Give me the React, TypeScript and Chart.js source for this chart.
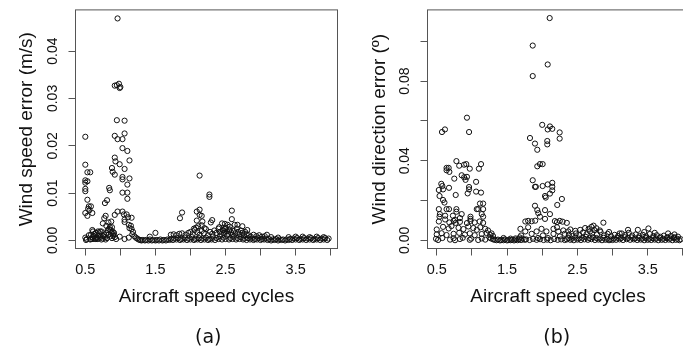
import { useEffect, useRef } from 'react';
import { Chart, registerables } from 'chart.js';

Chart.register(...registerables);

// ---------- tick values / labels ----------
const xTickValues = [0.5, 1, 1.5, 2, 2.5, 3, 3.5, 4];
const xTickLabels = ['0.5', '', '1.5', '', '2.5', '', '3.5', ''];
const speedTickValues = [0, 0.01, 0.02, 0.03, 0.04];
const speedTickLabels = ['0.00', '0.01', '0.02', '0.03', '0.04'];
const dirTickValues = [0, 0.02, 0.04, 0.06, 0.08, 0.1];
const dirTickLabels = ['0.00', '', '0.04', '', '0.08', ''];

// ---------- panel (a): wind speed error ----------
const speedPeak: number[][] = [
  [0.96, 0.0469],
  [0.92, 0.0327], [0.95, 0.0328], [0.98, 0.0331], [0.99, 0.0322], [1.0, 0.0324],
  [0.95, 0.0254], [1.06, 0.0253],
  [0.5, 0.0219],
  [0.92, 0.0221], [0.96, 0.0214], [1.03, 0.0214], [1.06, 0.0226],
  [1.03, 0.0195], [1.1, 0.0189],
  [0.92, 0.0175], [0.93, 0.0167], [0.99, 0.0161], [1.13, 0.0169], [1.06, 0.0151],
  [0.88, 0.0153], [0.89, 0.0145], [0.92, 0.0139], [1.03, 0.0134], [1.03, 0.0129], [1.13, 0.0131], [1.1, 0.0118],
  [1.03, 0.0101], [1.1, 0.0101], [1.1, 0.0088],
  [0.84, 0.0111], [0.85, 0.0106],
  [0.78, 0.0079], [0.81, 0.0085],
  [0.5, 0.016], [0.5, 0.0127], [0.5, 0.0122], [0.5, 0.0109], [0.5, 0.0104], [0.53, 0.0144], [0.57, 0.0144], [0.53, 0.0125],
  [0.53, 0.0086], [0.55, 0.0072], [0.54, 0.0067], [0.58, 0.0072], [0.56, 0.0064], [0.5, 0.0058], [0.53, 0.0052], [0.6, 0.0058],
  [0.96, 0.0061], [1.03, 0.0061], [0.92, 0.0054], [1.05, 0.0055], [1.09, 0.0055], [1.11, 0.0049], [1.16, 0.0048],
  [1.06, 0.0044], [1.06, 0.0039], [1.12, 0.0033], [1.15, 0.0031], [1.13, 0.0026], [1.16, 0.0024], [1.18, 0.0018], [1.17, 0.0013],
  [0.77, 0.0047], [0.79, 0.0052], [0.75, 0.0036], [0.83, 0.0038], [0.87, 0.004], [0.8, 0.0031], [0.85, 0.0028], [0.88, 0.0028],
  [0.82, 0.0022], [0.86, 0.0022], [0.89, 0.0019], [0.91, 0.0016], [0.9, 0.001],
  [0.99, 0.0008], [1.06, 0.0003], [1.12, 0.0006],
];
const speedLowCluster: number[][] = [
  [0.5, 0.0006], [0.51, 0.0001], [0.52, 0.0003], [0.55, 0.0011], [0.57, 0.0002], [0.58, 0.0012], [0.58, 0.0003],
  [0.6, 0.0022], [0.6, 0.0007], [0.61, 0.0019], [0.61, 0.0003], [0.62, 0.0009], [0.63, 0.0014], [0.64, 0.0004],
  [0.65, 0.0016], [0.65, 0.0003], [0.66, 0.0006], [0.67, 0.0003], [0.68, 0.001], [0.68, 0.0019], [0.69, 0.0004],
  [0.7, 0.0015], [0.71, 0.0019], [0.72, 0.0008], [0.73, 0.0019], [0.73, 0.0002], [0.75, 0.0004], [0.76, 0.0009],
  [0.77, 0.0012], [0.78, 0.0007], [0.79, 0.0002], [0.8, 0.0016], [0.81, 0.0005], [0.83, 0.0012], [0.84, 0.0024],
  [0.86, 0.0009], [0.87, 0.0016], [0.88, 0.0005], [0.9, 0.0013], [0.92, 0.0007], [0.94, 0.0003],
];
const speedBand: number[][] = [
  [1.2, 0.0009], [1.22, 0.0006], [1.24, 0.0004], [1.26, 0.0002], [1.28, 0.0001], [1.3, 0.0], [1.32, 0.0001],
  [1.35, 0.0], [1.37, 0.0001], [1.4, 0.0], [1.42, 0.0002], [1.45, 0.0], [1.47, 0.0001], [1.5, 0.0], [1.52, 0.0001],
  [1.55, 0.0], [1.57, 0.0002], [1.6, 0.0], [1.62, 0.0001], [1.65, 0.0], [1.67, 0.0002], [1.7, 0.0001], [1.72, 0.0003],
  [1.75, 0.0001], [1.77, 0.0004], [1.8, 0.0002], [1.82, 0.0005], [1.85, 0.0001], [1.87, 0.0003], [1.9, 0.0002],
  [1.92, 0.0006], [1.95, 0.0001], [1.97, 0.0004], [2.0, 0.0002], [2.02, 0.0007], [2.05, 0.0001], [2.07, 0.0003],
  [2.1, 0.0002], [2.12, 0.0005], [2.15, 0.0001], [2.17, 0.0004], [2.2, 0.0002], [2.22, 0.0006], [2.25, 0.0001],
  [2.27, 0.0003], [2.3, 0.0002], [2.32, 0.0008], [2.35, 0.0001], [2.37, 0.0005], [2.4, 0.0003], [2.42, 0.0009],
  [2.45, 0.0002], [2.47, 0.0006], [2.5, 0.0003], [2.52, 0.001], [2.55, 0.0002], [2.57, 0.0005], [2.6, 0.0003],
  [2.62, 0.0008], [2.65, 0.0002], [2.67, 0.0005], [2.7, 0.0003], [2.72, 0.0007], [2.75, 0.0002], [2.77, 0.0004],
  [2.8, 0.0001], [2.82, 0.0005], [2.85, 0.0002], [2.87, 0.0004], [2.9, 0.0001], [2.92, 0.0003], [2.95, 0.0002],
  [2.97, 0.0005], [3.0, 0.0001], [3.02, 0.0003], [3.05, 0.0002], [3.07, 0.0004], [3.1, 0.0001], [3.12, 0.0003],
  [3.15, 0.0], [3.17, 0.0002], [3.2, 0.0001], [3.22, 0.0003], [3.25, 0.0], [3.27, 0.0002], [3.3, 0.0001],
  [3.32, 0.0002], [3.35, 0.0], [3.37, 0.0002], [3.4, 0.0001], [3.42, 0.0003], [3.45, 0.0001], [3.47, 0.0004],
  [3.5, 0.0002], [3.52, 0.0005], [3.55, 0.0001], [3.57, 0.0003], [3.6, 0.0002], [3.62, 0.0005], [3.65, 0.0001],
  [3.67, 0.0004], [3.7, 0.0002], [3.72, 0.0005], [3.75, 0.0001], [3.77, 0.0003], [3.8, 0.0002], [3.82, 0.0005],
  [3.85, 0.0001], [3.87, 0.0004], [3.9, 0.0002], [3.92, 0.0005], [3.95, 0.0001], [3.97, 0.0004],
];
const speedBandUpper: number[][] = [
  [1.72, 0.0012], [1.76, 0.0013], [1.8, 0.0011], [1.84, 0.0014], [1.88, 0.0015], [1.93, 0.0012], [1.97, 0.0016],
  [2.0, 0.0018], [2.03, 0.0013], [2.06, 0.0022], [2.08, 0.0027], [2.1, 0.0017], [2.13, 0.0012], [2.16, 0.002],
  [2.19, 0.0015], [2.22, 0.0024], [2.25, 0.0011], [2.28, 0.0018], [2.31, 0.0014], [2.34, 0.0021], [2.37, 0.0016],
  [2.4, 0.0025], [2.42, 0.0018], [2.44, 0.0013], [2.46, 0.0022], [2.48, 0.0016], [2.5, 0.0027], [2.52, 0.0019],
  [2.54, 0.0014], [2.56, 0.0023], [2.58, 0.0017], [2.6, 0.0012], [2.62, 0.002], [2.64, 0.0015], [2.66, 0.0025],
  [2.68, 0.0018], [2.7, 0.0013], [2.72, 0.0021], [2.74, 0.0016], [2.76, 0.0011], [2.78, 0.0018], [2.8, 0.0013],
  [2.83, 0.0011], [2.86, 0.0008], [2.9, 0.0012], [2.94, 0.0009], [2.98, 0.0011], [3.02, 0.0008], [3.06, 0.0009],
  [3.15, 0.0007], [3.25, 0.0006], [3.4, 0.0007], [3.5, 0.0008], [3.6, 0.0008], [3.7, 0.0007], [3.8, 0.0008], [3.9, 0.0007],
];
const speedScatter: number[][] = [
  [2.13, 0.0137], [2.27, 0.0097], [2.27, 0.0092], [1.88, 0.0059], [1.85, 0.0047], [2.09, 0.0061], [2.13, 0.0065],
  [2.13, 0.0054], [2.16, 0.0052], [2.09, 0.0042], [2.17, 0.004], [2.31, 0.0043], [2.29, 0.0038], [2.59, 0.0063],
  [2.59, 0.0045], [2.56, 0.0029], [2.63, 0.0033], [2.67, 0.0033], [2.74, 0.003], [2.81, 0.0022], [2.45, 0.0036],
  [2.49, 0.0035], [2.53, 0.0033], [2.41, 0.0028], [2.49, 0.0024], [2.47, 0.0021], [2.55, 0.0021], [3.09, 0.0012],
  [1.5, 0.0016], [1.42, 0.0008], [2.11, 0.003], [2.16, 0.0032], [2.2, 0.0026], [2.05, 0.0025],
];

// ---------- panel (b): wind direction error ----------
const dirPeakLow: number[][] = [
  [0.93, 0.0616], [0.575, 0.0544], [0.617, 0.0557], [0.96, 0.0544],
  [0.78, 0.0398], [0.82, 0.0375], [0.89, 0.038], [0.92, 0.0383], [0.97, 0.036], [1.13, 0.0383], [1.1, 0.036],
  [0.64, 0.0364], [0.67, 0.0364], [0.64, 0.0352], [0.68, 0.0344],
  [0.855, 0.0327], [0.89, 0.0317], [0.93, 0.0319], [0.91, 0.0304], [0.75, 0.031],
  [0.565, 0.0284], [0.58, 0.0273], [0.53, 0.0253], [0.59, 0.0256], [0.675, 0.0264],
  [0.96, 0.0268], [0.96, 0.0256], [0.94, 0.0236], [1.06, 0.0294], [1.06, 0.0245], [1.13, 0.024],
  [0.54, 0.0223], [0.59, 0.0203], [0.61, 0.019], [0.64, 0.0157], [0.77, 0.0228],
  [1.115, 0.0185], [1.16, 0.0185], [1.09, 0.0157], [1.16, 0.0157], [0.78, 0.0157], [0.78, 0.0144],
  [0.53, 0.0157], [0.545, 0.0132], [0.54, 0.0119], [0.675, 0.0157],
  [1.07, 0.0157], [1.14, 0.0132], [1.16, 0.0119],
  [0.855, 0.0132], [0.98, 0.0119], [0.98, 0.0108], [0.62, 0.0124], [0.73, 0.0124], [0.76, 0.0103], [0.83, 0.0112],
];
const dirLowCluster: number[][] = [
  [0.53, 0.0095], [0.62, 0.0105], [0.68, 0.009], [0.74, 0.0098], [0.77, 0.0088], [0.83, 0.0093], [0.93, 0.0087],
  [0.98, 0.0098], [1.04, 0.009], [1.11, 0.0095], [1.16, 0.0088],
  [0.5, 0.0055], [0.59, 0.0068], [0.67, 0.006], [0.71, 0.0072], [0.81, 0.0063], [0.88, 0.0057], [0.95, 0.007],
  [1.02, 0.0062], [1.07, 0.0053], [1.12, 0.0066], [1.19, 0.0058], [1.23, 0.005],
  [0.5, 0.003], [0.57, 0.0036], [0.64, 0.0027], [0.74, 0.0033], [0.82, 0.0038], [0.9, 0.0029], [0.97, 0.0035],
  [1.04, 0.0026], [1.14, 0.0032], [1.21, 0.0037], [1.26, 0.0028],
  [0.49, 0.0008], [0.52, 0.0002], [0.58, 0.0012], [0.69, 0.0004], [0.74, 0.0011], [0.76, 0.0001], [0.83, 0.0007],
  [0.87, 0.0013], [0.97, 0.0003], [0.99, 0.0009], [1.09, 0.0002], [1.14, 0.001], [1.19, 0.0004],
];
const dirPeakHigh: number[][] = [
  [2.106, 0.1116], [1.865, 0.0978], [2.078, 0.0883], [1.865, 0.0825],
  [2.0, 0.058], [2.078, 0.0557], [2.11, 0.0572], [2.143, 0.056],
  [1.826, 0.0514], [1.897, 0.0486], [1.93, 0.0455], [2.072, 0.0499], [2.072, 0.0482], [2.248, 0.0542], [2.248, 0.0511],
  [1.93, 0.0372], [1.968, 0.0383], [2.006, 0.0383],
  [1.865, 0.0302], [1.897, 0.0269], [1.91, 0.0269], [2.006, 0.0273], [2.078, 0.0281], [2.143, 0.0289],
  [2.143, 0.0269], [2.143, 0.0251], [2.11, 0.0235],
  [2.04, 0.0223], [2.05, 0.0215], [2.28, 0.0208], [2.214, 0.0178],
  [1.897, 0.0174], [1.93, 0.0152], [1.944, 0.0137], [2.04, 0.0152], [1.968, 0.0119], [2.11, 0.0132], [2.04, 0.0108],
];
const dirMidLow: number[][] = [
  [1.76, 0.0095], [1.8, 0.0098], [1.85, 0.0096], [1.9, 0.0099], [2.18, 0.0097], [2.21, 0.0092], [2.25, 0.0098],
  [2.29, 0.0094], [2.35, 0.0088],
  [1.69, 0.0058], [1.76, 0.0045], [1.8, 0.0066], [1.85, 0.0033], [1.92, 0.0045], [1.94, 0.0012], [1.99, 0.0058],
  [2.01, 0.0025], [2.06, 0.0045], [2.08, 0.0012], [2.16, 0.0058], [2.16, 0.0033], [2.21, 0.0066], [2.23, 0.0045],
  [2.25, 0.002], [2.3, 0.005], [2.32, 0.0033], [2.37, 0.0045],
  [1.77, 0.0005], [1.82, 0.0002], [1.87, 0.0008], [1.92, 0.0003], [1.97, 0.0006], [2.02, 0.0002], [2.07, 0.0004],
  [2.12, 0.0001], [2.17, 0.0007], [2.22, 0.0003], [2.27, 0.0005], [2.32, 0.0002],
];
const dirBandLeft: number[][] = [
  [1.25, 0.0015], [1.27, 0.001], [1.3, 0.0006], [1.32, 0.0003], [1.35, 0.0001], [1.37, 0.0004], [1.4, 0.0],
  [1.42, 0.0002], [1.45, 0.0001], [1.47, 0.0005], [1.5, 0.0], [1.52, 0.0002], [1.55, 0.0001], [1.57, 0.0003],
  [1.6, 0.0], [1.62, 0.0004], [1.65, 0.0001], [1.67, 0.0006], [1.7, 0.0002], [1.72, 0.0009], [1.75, 0.0003],
  [1.3, 0.0022], [1.28, 0.0035], [1.45, 0.0012], [1.55, 0.0009], [1.62, 0.001], [1.68, 0.0015], [1.7, 0.0025],
];
const dirBandRight: number[][] = [
  [2.35, 0.0005], [2.37, 0.0012], [2.4, 0.0003], [2.42, 0.0008], [2.45, 0.0001], [2.47, 0.0015], [2.5, 0.0004],
  [2.52, 0.0009], [2.55, 0.0002], [2.57, 0.0013], [2.6, 0.0005], [2.62, 0.0018], [2.65, 0.0003], [2.67, 0.0011],
  [2.7, 0.0006], [2.72, 0.0016], [2.75, 0.0002], [2.77, 0.0012], [2.8, 0.0004], [2.82, 0.0009], [2.85, 0.0001],
  [2.87, 0.0013], [2.9, 0.0003], [2.92, 0.0008], [2.95, 0.0001], [2.97, 0.0005], [3.0, 0.0002], [3.02, 0.0009],
  [3.05, 0.0003], [3.07, 0.0014], [3.1, 0.0005], [3.12, 0.0011], [3.15, 0.0002], [3.17, 0.0016], [3.2, 0.0006],
  [3.22, 0.0012], [3.25, 0.0003], [3.27, 0.0015], [3.3, 0.0005], [3.32, 0.001], [3.35, 0.0002], [3.37, 0.0013],
  [3.4, 0.0004], [3.42, 0.0009], [3.45, 0.0001], [3.47, 0.0012], [3.5, 0.0003], [3.52, 0.0008], [3.55, 0.0002],
  [3.57, 0.0011], [3.6, 0.0004], [3.62, 0.0009], [3.65, 0.0001], [3.67, 0.0012], [3.7, 0.0003], [3.72, 0.0008],
  [3.75, 0.0002], [3.77, 0.0011], [3.8, 0.0004], [3.82, 0.0009], [3.85, 0.0001], [3.87, 0.0012], [3.9, 0.0003],
  [3.92, 0.0008], [3.95, 0.0001], [3.97, 0.0006],
];
const dirBandUpper: number[][] = [
  [2.38, 0.0028], [2.43, 0.0022], [2.48, 0.0035], [2.53, 0.0026], [2.58, 0.004], [2.63, 0.0031], [2.68, 0.0045],
  [2.71, 0.0036], [2.74, 0.0052], [2.78, 0.003], [2.83, 0.0042], [2.88, 0.0025], [2.93, 0.0033], [2.98, 0.002],
  [3.03, 0.0028], [3.08, 0.0022], [3.13, 0.0035], [3.18, 0.0027], [3.23, 0.0038], [3.28, 0.0024], [3.33, 0.003],
  [3.38, 0.0021], [3.43, 0.0028], [3.48, 0.0019], [3.53, 0.0032], [3.58, 0.0022], [3.63, 0.0026], [3.68, 0.0018],
  [3.73, 0.0024], [3.78, 0.0017], [3.83, 0.0022], [3.88, 0.0016], [3.93, 0.0019],
  [2.87, 0.0089], [2.73, 0.0074], [2.66, 0.0058], [2.61, 0.0062], [2.54, 0.0053], [2.47, 0.0048], [2.4, 0.0055],
  [2.7, 0.0068], [2.77, 0.0061], [2.82, 0.005], [3.22, 0.0053], [3.36, 0.0053], [3.51, 0.006], [3.79, 0.0035],
  [3.88, 0.003], [3.1, 0.0035], [2.95, 0.0042], [3.45, 0.0042], [3.6, 0.0038],
];

const speedPoints = [...speedPeak, ...speedLowCluster, ...speedBand, ...speedBandUpper, ...speedScatter];
const dirPoints = [...dirPeakLow, ...dirLowCluster, ...dirPeakHigh, ...dirMidLow, ...dirBandLeft, ...dirBandRight, ...dirBandUpper];

const SANS = '"Liberation Sans", Arial, Helvetica, sans-serif';

type PanelSpec = {
  points: number[][];
  yTitle: string;
  yTickValues: number[];
  yTickLabels: string[];
  xMin: number;
  xMax: number;
  yMin: number;
  yMax: number;
  yAxisWidth: number;
  padRight: number;
  yTitlePad: number;
  yTickPad: number;
  caption: string;
  captionX: number;
};

function makeChart(canvas: HTMLCanvasElement, p: PanelSpec) {
  const framePlugin = {
    id: 'frameAndCaption',
    afterDraw(chart: any) {
      const { ctx, chartArea: a } = chart;
      ctx.save();
      ctx.strokeStyle = '#555';
      ctx.lineWidth = 1;
      ctx.strokeRect(a.left, a.top, a.right - a.left, a.bottom - a.top);
      ctx.fillStyle = '#111';
      ctx.font = '19px "DejaVu Sans", sans-serif';
      ctx.textAlign = 'center';
      ctx.textBaseline = 'alphabetic';
      ctx.fillText(p.caption, p.captionX, 342.5);
      ctx.restore();
    },
  };
  return new Chart(canvas, {
    type: 'scatter',
    data: {
      datasets: [
        {
          data: p.points.map(([x, y]) => ({ x, y })),
          pointRadius: 2.6,
          pointHoverRadius: 2.6,
          pointBorderWidth: 1,
          borderColor: '#111',
          backgroundColor: 'rgba(0,0,0,0)',
        },
      ],
    },
    options: {
      animation: false,
      responsive: false,
      events: [],
      layout: { padding: { top: 6.5, right: p.padRight, bottom: 0, left: 0 } },
      plugins: { legend: { display: false }, tooltip: { enabled: false } },
      scales: {
        x: {
          type: 'linear',
          min: p.xMin,
          max: p.xMax,
          afterFit: (s: any) => {
            s.height = 102.5;
          },
          afterBuildTicks: (s: any) => {
            s.ticks = xTickValues.map((v) => ({ value: v }));
          },
          ticks: {
            autoSkip: false,
            maxRotation: 0,
            padding: 6,
            color: '#111',
            font: { family: SANS, size: 14.5 },
            callback: (_v: any, i: number) => xTickLabels[i],
          },
          grid: { drawOnChartArea: false, drawTicks: true, tickLength: 7, tickColor: '#555', tickWidth: 1, color: '#555' },
          border: { display: false },
          title: {
            display: true,
            text: 'Aircraft speed cycles',
            color: '#111',
            font: { family: SANS, size: 19 },
            padding: { top: 0, bottom: 43 },
          },
        },
        y: {
          type: 'linear',
          min: p.yMin,
          max: p.yMax,
          afterFit: (s: any) => {
            s.width = p.yAxisWidth;
          },
          afterBuildTicks: (s: any) => {
            s.ticks = p.yTickValues.map((v) => ({ value: v }));
          },
          ticks: {
            autoSkip: false,
            minRotation: 90,
            maxRotation: 90,
            crossAlign: 'center',
            padding: p.yTickPad,
            color: '#111',
            font: { family: SANS, size: 14 },
            callback: (_v: any, i: number) => p.yTickLabels[i],
          },
          grid: { drawOnChartArea: false, drawTicks: true, tickLength: 7, tickColor: '#555', tickWidth: 1, color: '#555' },
          border: { display: false },
          title: {
            display: true,
            text: p.yTitle,
            color: '#111',
            font: { family: SANS, size: 19 },
            padding: { top: p.yTitlePad, bottom: 0 },
          },
        },
      },
    },
    plugins: [framePlugin],
  } as any);
}

const panelA: PanelSpec = {
  points: speedPoints,
  yTitle: 'Wind speed error (m/s)',
  yTickValues: speedTickValues,
  yTickLabels: speedTickLabels,
  xMin: 0.36,
  xMax: 4.097,
  yMin: -0.0017,
  yMax: 0.0487,
  yAxisWidth: 75.5,
  padRight: 7.5,
  yTitlePad: 15,
  yTickPad: 1.5,
  caption: '(a)',
  captionX: 208.3,
};

const panelB: PanelSpec = {
  points: dirPoints,
  yTitle: 'Wind direction error (º)',
  yTickValues: dirTickValues,
  yTickLabels: dirTickLabels,
  xMin: 0.369,
  xMax: 4.08,
  yMin: -0.00406,
  yMax: 0.1157,
  yAxisWidth: 82.5,
  padRight: 16.5,
  yTitlePad: 23,
  yTickPad: 1.5,
  caption: '(b)',
  captionX: 211.7,
};

export default function App() {
  const refA = useRef<HTMLCanvasElement | null>(null);
  const refB = useRef<HTMLCanvasElement | null>(null);
  useEffect(() => {
    const a = refA.current ? makeChart(refA.current, panelA) : null;
    const b = refB.current ? makeChart(refB.current, panelB) : null;
    return () => {
      a?.destroy();
      b?.destroy();
    };
  }, []);
  return (
    <div
      style={{
        position: 'fixed',
        left: 0,
        top: 0,
        width: 683,
        height: 351,
        overflow: 'hidden',
        background: '#fff',
      }}
    >
      <canvas
        ref={refA}
        width={345}
        height={351}
        style={{ position: 'absolute', left: 0, top: 0, width: 345, height: 351 }}
      />
      <canvas
        ref={refB}
        width={360}
        height={351}
        style={{ position: 'absolute', left: 345, top: 0, width: 360, height: 351 }}
      />
    </div>
  );
}
